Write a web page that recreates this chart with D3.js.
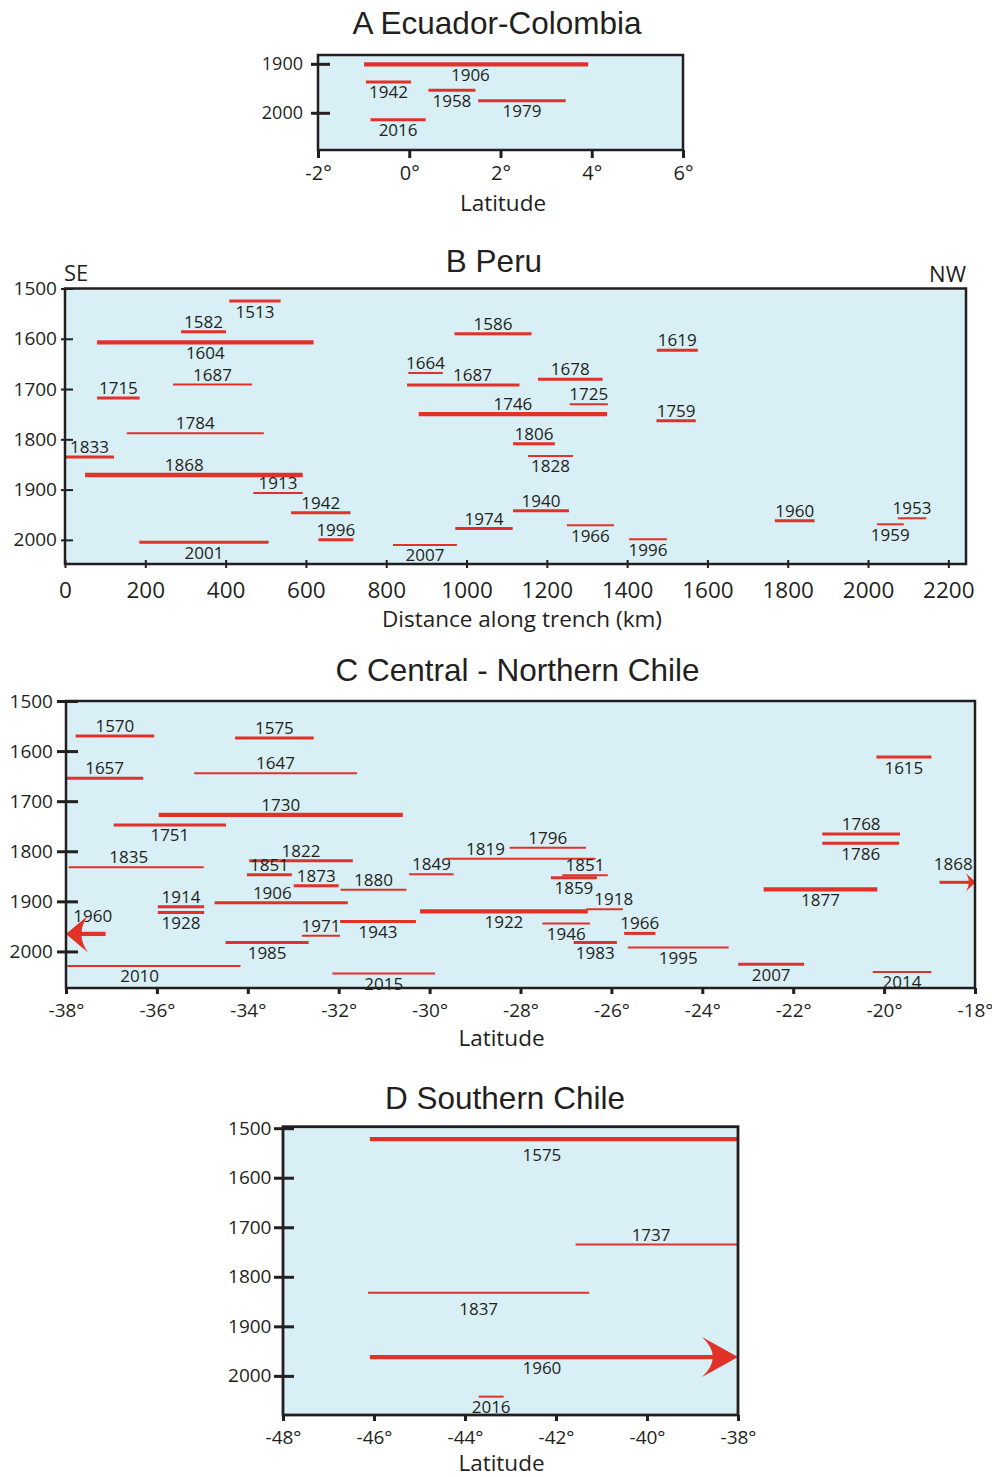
<!DOCTYPE html>
<html><head><meta charset="utf-8">
<script src="https://cdn.jsdelivr.net/npm/d3@7"></script>
<style>
body{margin:0;background:#fff;}
svg{display:block;}
.lab{font-family:"Open Sans",sans-serif;fill:#231f20;}
.ttl{font-family:"Liberation Sans",Arial,sans-serif;fill:#231f20;}
.tick text{font-family:"Open Sans",sans-serif;fill:#231f20;}
</style></head><body>
<svg id="c" width="992" height="1477"></svg>
<script>
// ================= DATA =================
// Panel A: Ecuador-Colombia (x = latitude, y = year)
const ecuLabel = [1906, 1942, 1958, 1979, 2016];
const ecuYear  = [1901, 1937, 1954, 1975.5, 2014];
const ecuFrom  = [-0.99, -0.95, 0.42, 1.51, -0.85];
const ecuTo    = [3.92, 0.04, 1.45, 3.43, 0.36];
const ecuSize  = ['L','M','M','M','M'];
const ecuSide  = ['b','b','b','b','b'];
const ecuLabelAt = {0: 1.34};
const ecuArrow = {};
const ecuXTicks = [-2, 0, 2, 4, 6];
const ecuYTicks = [1900, 2000];

// Panel B: Peru (x = distance along trench km, y = year)
const peruLabel = [1513,1582,1604,1687,1715,1784,1833,1868,1913,1942,1996,2001,
                   1586,1664,1687,1678,1725,1746,1806,1828,1940,1974,1966,1996,2007,
                   1619,1759,1960,1953,1959];
const peruYear  = [1525,1586,1607,1691,1718,1788,1835,1871,1907,1946,2000,2004.5,
                   1590,1668,1692,1680.5,1730,1750,1809,1833,1942,1977.5,1971,1999,2010,
                   1623,1763,1962,1957,1969];
const peruFrom  = [409,289,80,269,80,154,0,50,469,563,631,185,
                   970,855,852,1178,1257,881,1116,1153,1116,972,1250,1405,817,
                   1474,1473,1768,2074,2022];
const peruTo    = [537,401,619,466,186,495,122,592,592,711,718,507,
                   1162,941,1132,1339,1352,1350,1220,1265,1255,1115,1367,1499,976,
                   1576,1571,1867,2145,2089];
const peruSize  = ['M','M','L','S','M','S','M','L','S','M','M','M',
                   'M','S','M','M','S','L','M','S','M','M','S','S','S',
                   'M','M','M','S','S'];
const peruSide  = ['b','a','b','a','a','a','a','a','a','a','a','b',
                   'a','a','a','a','a','a','a','b','a','a','b','b','b',
                   'a','a','a','a','b'];
const peruLabelAt = {7: 297, 14: 1015};
const peruArrow = {};
const peruXTicks = [0,200,400,600,800,1000,1200,1400,1600,1800,2000,2200];
const peruYTicks = [1500,1600,1700,1800,1900,2000];

// Panel C: Central - Northern Chile (x = latitude, y = year)
const chileLabel = [1570,1575,1657,1647,1730,1751,1835,1822,1851,1873,1914,1928,1906,1960,1971,1985,2010,2015,
                    1943,1880,1849,1819,1796,1851,1859,1922,1918,1946,1966,1983,1995,
                    1615,1768,1786,1868,1877,2007,2014];
const chileYear  = [1570,1574,1654,1644,1727.5,1747.5,1832,1819,1847,1869,1911,1922.5,1903,1965,1968.5,1982,2029,2044,
                    1940,1877,1846,1815,1793,1848,1853,1920,1916,1944,1964,1982,1992,
                    1612,1765.5,1784,1862,1876,2025.5,2041];
const chileFrom  = [-37.79,-34.28,-38.0,-35.18,-35.96,-36.95,-37.94,-33.97,-34.02,-32.99,-35.98,-35.98,-34.73,-38.0,-32.81,-34.49,-37.97,-32.14,
                    -31.97,-31.96,-30.45,-29.66,-28.24,-27.08,-27.33,-30.21,-26.55,-27.52,-25.72,-26.83,-25.64,
                    -20.17,-21.36,-21.36,-18.78,-22.65,-23.21,-20.25];
const chileTo    = [-36.06,-32.55,-36.30,-31.60,-30.59,-34.48,-34.97,-31.69,-33.03,-32.0,-34.96,-34.96,-31.80,-37.13,-31.97,-32.66,-34.16,-29.88,
                    -30.30,-30.51,-29.47,-26.35,-26.56,-26.08,-26.32,-26.52,-25.75,-26.47,-25.03,-25.88,-23.42,
                    -18.96,-19.65,-19.67,-17.98,-20.15,-21.76,-18.96];
const chileSize  = ['M','M','M','S','L','M','S','M','M','M','M','M','M','L','S','M','S','S',
                    'M','S','S','S','S','S','M','L','S','S','M','M','S',
                    'M','M','M','M','L','M','S'];
const chileSide  = ['a','a','a','a','a','b','a','a','a','a','a','b','a','A','a','b','b','b',
                    'b','a','a','a','a','a','b','b','a','b','a','b','b',
                    'b','a','b','A','b','b','b'];
const chileLabelAt = {6: -36.62, 12: -33.46, 13: -37.41, 16: -36.38, 21: -28.77, 26: -25.95, 34: -18.48};
const chileArrow = {13: 'L', 34: 'R'};
const chileXTicks = [-38,-36,-34,-32,-30,-28,-26,-24,-22,-20,-18];
const chileYTicks = [1500,1600,1700,1800,1900,2000];

// Panel D: Southern Chile (x = latitude, y = year)
const southLabel = [1575, 1737, 1837, 1960, 2016];
const southYear  = [1522, 1735, 1832, 1962, 2042];
const southFrom  = [-46.09, -41.57, -46.13, -46.09, -43.70];
const southTo    = [-38.0, -38.0, -41.27, -38.0, -43.15];
const southSize  = ['L','S','S','L','S'];
const southSide  = ['B','a','B','b','b'];
const southLabelAt = {0: -42.31, 1: -39.91, 3: -42.31};
const southArrow = {3: 'R'};
const southXTicks = [-48,-46,-44,-42,-40,-38];
const southYTicks = [1500,1600,1700,1800,1900,2000];

// ================= BUILD =================
function events(label, year, from, to, size, side, at, arrow) {
  return label.map((l, i) => ({label: l, year: year[i], from: from[i], to: to[i],
    size: size[i], side: side[i], at: at[i] !== undefined ? at[i] : null, arrow: arrow[i] || ''}));
}
const degFmt = d => d + '°';
const numFmt = d => String(d);

const panels = [
  {title:'A Ecuador-Colombia', titleX:497, titleY:34, box:[318,55,683,150],
   xDomain:[-2,6], yDomain:[1882,2076], xTicks:ecuXTicks, yTicks:ecuYTicks, fmt:degFmt,
   xTitle:'Latitude', xTitleX:503, xTitleY:211, xTickY:180, xTickFont:20, yTickFont:18,
   yGap:15, yTick:[7,12], xTick:[0,8], tickW:3, borderW:2.5, arrowSize:{},
   ev: events(ecuLabel, ecuYear, ecuFrom, ecuTo, ecuSize, ecuSide, ecuLabelAt, ecuArrow)},
  {title:'B Peru', titleX:494, titleY:272, box:[65,288.5,966,564],
   xDomain:[0,2244], yDomain:[1500,2048], xTicks:peruXTicks, yTicks:peruYTicks, fmt:numFmt,
   xTitle:'Distance along trench (km)', xTitleX:522, xTitleY:627, xTickY:598, xTickFont:22.5, yTickFont:19,
   yGap:8, yTick:[4,8], xTick:[4,4], tickW:2, borderW:2.5, arrowSize:{},
   ev: events(peruLabel, peruYear, peruFrom, peruTo, peruSize, peruSide, peruLabelAt, peruArrow)},
  {title:'C Central - Northern Chile', titleX:517.5, titleY:681, box:[66,701,975,988],
   xDomain:[-38,-18], yDomain:[1500,2073], xTicks:chileXTicks, yTicks:chileYTicks, fmt:degFmt,
   xTitle:'Latitude', xTitleX:501.5, xTitleY:1046, xTickY:1017, xTickFont:19, yTickFont:19,
   yGap:13, yTick:[9,12], xTick:[0,6], tickW:3, borderW:2.5, arrowSize:{L:[22,18.5], M:[10,9]},
   ev: events(chileLabel, chileYear, chileFrom, chileTo, chileSize, chileSide, chileLabelAt, chileArrow)},
  {title:'D Southern Chile', titleX:505, titleY:1109, box:[283,1126.7,738,1415],
   xDomain:[-48,-38], yDomain:[1497,2079], xTicks:southXTicks, yTicks:southYTicks, fmt:degFmt,
   xTitle:'Latitude', xTitleX:501.5, xTitleY:1471, xTickY:1444, xTickFont:19, yTickFont:19,
   yGap:11.5, yTick:[9,11], xTick:[0,6], tickW:3, borderW:2.8, arrowSize:{L:[36,20]},
   ev: events(southLabel, southYear, southFrom, southTo, southSize, southSide, southLabelAt, southArrow)}
];

const RED = '#e1322a', INK = '#231f20', FILL = '#d8eff5';
const strokeBySize = {L:4.3, M:3, S:2};
const sideDy = {a:-4, A:-12, b:16.5, B:22};

const svg = d3.select('#c');

panels.forEach(p => {
  const [x0, y0, x1, y1] = p.box;
  const x = d3.scaleLinear().domain(p.xDomain).range([x0, x1]);
  const y = d3.scaleLinear().domain(p.yDomain).range([y0, y1]);
  const g = svg.append('g');

  g.append('rect').attr('x', x0).attr('y', y0).attr('width', x1 - x0).attr('height', y1 - y0)
    .attr('fill', FILL);

  // rupture segments
  const marks = g.append('g');
  p.ev.forEach(e => {
    const xa = x(e.from), xb = x(e.to), yy = y(e.year);
    const w = strokeBySize[e.size];
    if (e.arrow) {
      const [L, H] = p.arrowSize[e.size];
      const dir = e.arrow === 'R' ? 1 : -1;
      const tip = dir === 1 ? xb : xa;
      const start = dir === 1 ? xa : xb;
      const back = tip - dir * L;
      const ctrl = tip - dir * L * 0.4;
      marks.append('line').attr('x1', start).attr('x2', tip - dir * L * 0.6)
        .attr('y1', yy).attr('y2', yy).attr('stroke', RED).attr('stroke-width', w);
      marks.append('path')
        .attr('d', `M${tip},${yy} L${back},${yy - H} Q${ctrl},${yy} ${back},${yy + H} Z`)
        .attr('fill', RED);
    } else {
      marks.append('line').attr('x1', xa).attr('x2', xb).attr('y1', yy).attr('y2', yy)
        .attr('stroke', RED).attr('stroke-width', w);
    }
    const lx = e.at !== null ? x(e.at) : (xa + xb) / 2;
    marks.append('text').attr('class', 'lab').attr('x', lx).attr('y', yy + sideDy[e.side])
      .attr('text-anchor', 'middle').attr('font-size', 17).text(e.label);
  });

  // frame
  g.append('rect').attr('x', x0).attr('y', y0).attr('width', x1 - x0).attr('height', y1 - y0)
    .attr('fill', 'none').attr('stroke', INK).attr('stroke-width', p.borderW);

  // y axis
  const ya = g.append('g').attr('transform', `translate(${x0},0)`)
    .call(d3.axisLeft(y).tickValues(p.yTicks).tickFormat(d3.format('d')).tickSize(p.yTick[0]));
  ya.select('.domain').remove();
  ya.selectAll('.tick line').attr('x1', p.yTick[1]).attr('x2', -p.yTick[0])
    .attr('stroke', INK).attr('stroke-width', p.tickW);
  ya.selectAll('.tick text').attr('x', -p.yGap).attr('font-size', p.yTickFont);

  // x axis
  const xa = g.append('g').attr('transform', `translate(0,${y1})`)
    .call(d3.axisBottom(x).tickValues(p.xTicks).tickFormat(p.fmt).tickSize(p.xTick[1]));
  xa.select('.domain').remove();
  xa.selectAll('.tick line').attr('y1', -p.xTick[0]).attr('y2', p.xTick[1])
    .attr('stroke', INK).attr('stroke-width', p.tickW);
  xa.selectAll('.tick text').attr('y', p.xTickY - y1).attr('dy', 0).attr('font-size', p.xTickFont);

  // titles
  g.append('text').attr('class', 'ttl').attr('x', p.titleX).attr('y', p.titleY)
    .attr('text-anchor', 'middle').attr('font-size', 31.5).text(p.title);
  g.append('text').attr('class', 'lab').attr('x', p.xTitleX).attr('y', p.xTitleY)
    .attr('text-anchor', 'middle').attr('font-size', 22.5).text(p.xTitle);
});

// direction labels for Peru
svg.append('text').attr('class', 'lab').attr('x', 64).attr('y', 281).attr('font-size', 22).text('SE');
svg.append('text').attr('class', 'lab').attr('x', 966).attr('y', 282).attr('text-anchor', 'end')
  .attr('font-size', 22).text('NW');
</script>
</body></html>
